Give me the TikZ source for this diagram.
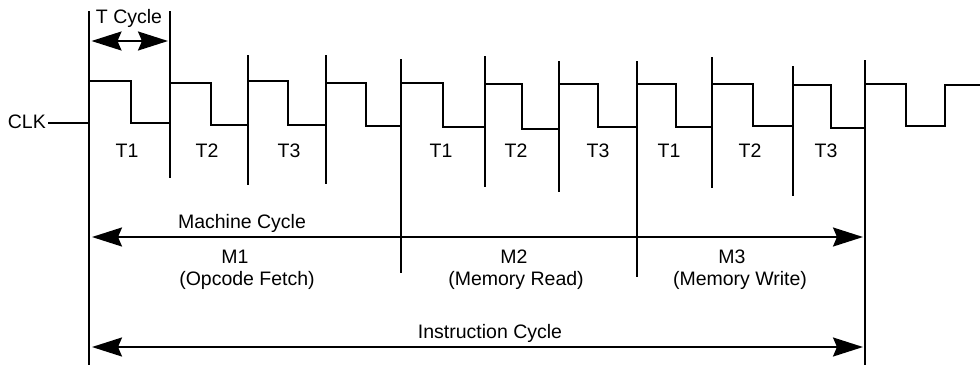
\documentclass[tikz,border=0pt]{standalone}
\usepackage{fontspec}
\setmainfont{Liberation Sans}
\usetikzlibrary{arrows.meta}
\begin{document}
\begin{tikzpicture}[x=1pt,y=-1pt,
  wire/.style={line width=2.4pt},
  tick/.style={line width=2.4pt},
  span/.style={line width=2pt,{Stealth[length=30pt,width=19pt,inset=4pt]}-{Stealth[length=30pt,width=19pt,inset=4pt]}},
  lbl/.style={inner sep=0pt,anchor=base,font=\fontsize{19.5pt}{23pt}\selectfont}]
\useasboundingbox (0,0) rectangle (980,365);
% vertical marker lines
\foreach \n/\x/\t/\b in {a/89/11/365, b/170/11/178, c/248/55/185, d/326/55/184,
  e/401/59/273, f/485/56/187, g/559/61/192, h/637/61/277, i/712/57/188,
  j/793/66/196, k/865/60/365}{
  \coordinate (\n top) at (\x,\t);
  \coordinate (\n bot) at (\x,\b);
  \draw[tick] (\n top) -- (\n bot);
}
% clock
\node[lbl,anchor=base east] (clk) at (46,128) {CLK};
\coordinate (clkin) at (89,123);
\draw[wire] (clk.east |- clkin) ++(2,0) coordinate (clkstart) -- (clkin);
\draw[wire] (clkin) -- (89,81) -- (131,81) -- (131,123) -- (170,123) -- (170,83)
  -- (211,83) -- (211,125) -- (248,125) -- (248,81) -- (288,81) -- (288,125)
  -- (326,125) -- (326,83) -- (366,83) -- (366,126) -- (401,126) -- (401,83)
  -- (443,83) -- (443,127) -- (485,127) -- (485,84) -- (522,84) -- (522,129)
  -- (559,129) -- (559,84) -- (598,84) -- (598,127) -- (637,127) -- (637,84)
  -- (676,84) -- (676,127) -- (712,127) -- (712,84) -- (753,84) -- (753,126)
  -- (793,126) -- (793,85) -- (831,85) -- (831,128) -- (865,128) -- (865,84)
  -- (906,84) -- (906,126) -- (945,126) -- (945,85) -- (980,85);
% T cycle
\node[lbl] (tcyc) at (129,23) {T Cycle};
\coordinate (tcL) at (91.5,41);
\coordinate (tcR) at (168,41);
\draw[span] (tcL) -- (tcR);
% T labels
\foreach \n/\x/\s in {t11/127/T1, t12/207/T2, t13/289/T3,
  t21/441/T1, t22/516/T2, t23/598/T3,
  t31/669/T1, t32/750/T2, t33/826/T3}{
  \node[lbl] (\n) at (\x,157) {\s};
}
% machine cycle
\node[lbl] (mc) at (242,228) {Machine Cycle};
\coordinate (mcL) at (92,237);
\coordinate (mcR) at (863,237);
\draw[span] (mcL) -- (mcR);
\node[lbl] (m1) at (235,263) {M1};
\node[lbl] (m1t) at (247,285) {(Opcode Fetch)};
\node[lbl] (m2) at (514,263) {M2};
\node[lbl] (m2t) at (516,285) {(Memory Read)};
\node[lbl] (m3) at (732,263) {M3};
\node[lbl] (m3t) at (740,285) {(Memory Write)};
% instruction cycle
\node[lbl] (ic) at (490,338) {Instruction Cycle};
\coordinate (icL) at (92,347);
\coordinate (icR) at (863,347);
\draw[span] (icL) -- (icR);
\end{tikzpicture}
\end{document}
